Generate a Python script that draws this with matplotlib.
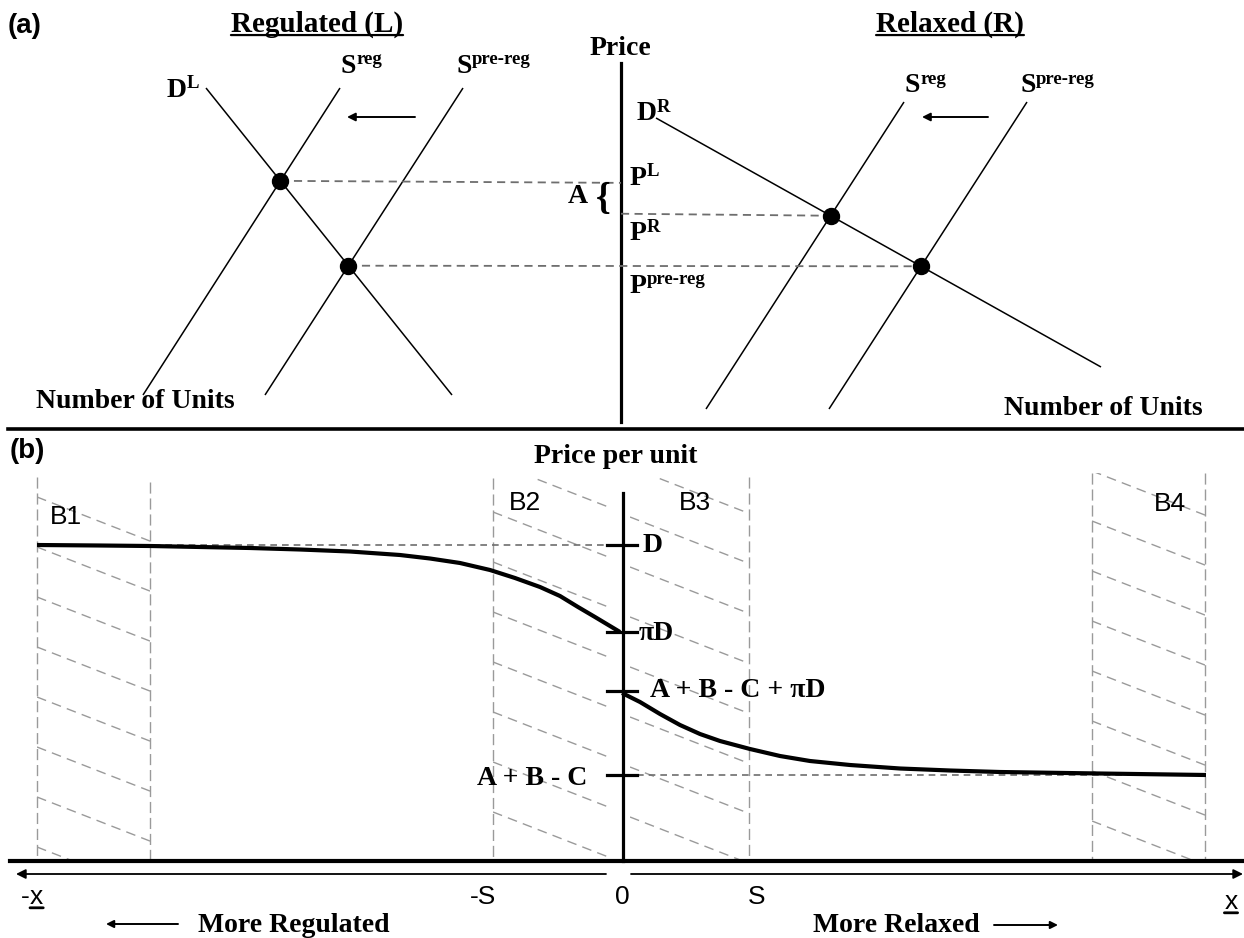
import numpy as np
import matplotlib.pyplot as plt
from matplotlib.patches import Rectangle

plt.rcParams['font.family'] = 'Liberation Serif'

# whole sheet is drawn in pixel units, y pointing down
W, H = 1244, 938

# (a) supply / demand lines as (x0, y0, x1, y1)
reg_demand = (206, 88, 452, 395)
reg_supply = (340, 88, 143, 395)
reg_supply_pre = (463, 88, 265, 395)
rel_demand = (656, 118, 1101, 367)
rel_supply = (904, 102, 706, 409)
rel_supply_pre = (1027, 102, 829, 409)

# (b) price per unit against regulation level
curve_left_x = [37, 100, 150, 200, 250, 300, 350, 400, 430, 460, 490, 515, 540, 560, 578, 595, 610, 620]
curve_left_y = [545, 545.5, 546, 547, 548, 549.5, 551.5, 555, 558.5, 563, 570, 578, 587, 596, 607, 617, 626, 632]
curve_right_x = [622, 640, 660, 680, 700, 720, 750, 780, 810, 850, 900, 950, 1000, 1100, 1206]
curve_right_y = [693, 702, 714, 725, 734, 741, 749, 756, 761, 765, 768.5, 770.5, 772, 773.5, 775]

price_levels = [545, 632, 691, 775]
price_labels = ['D', 'πD', 'A + B - C + πD', 'A + B - C']

x_ticks = [37, 483, 622, 757, 1231]
x_tick_labels = ['-x', '-S', '0', 'S', 'x']

bands = ['B1', 'B2', 'B3', 'B4']
band_x0 = [37, 493, 630, 1092]
band_x1 = [150, 612, 749, 1205]
band_top = [477, 478, 477, 473]
band_first = [497, 462, 467, 471]
band_label_xy = [(66, 517), (525, 503), (695, 503), (1170, 504)]
band_edges = [37, 150, 493, 749, 1092, 1205]
band_edge_top = [477, 482, 478, 477, 473, 473]

fig = plt.figure(figsize=(W / 100, H / 100), dpi=100)
ax = fig.add_axes([0, 0, 1, 1])
ax.set_xlim(0, W)
ax.set_ylim(H, 0)
ax.axis('off')

BOLD = dict(fontweight='bold', color='black')
GRAY = '#9a9a9a'


def seg(s):
    ax.plot([s[0], s[2]], [s[1], s[3]], color='black', lw=1.1, solid_capstyle='butt')


def cross(a, b):
    # intersection of the lines through two segments
    p = np.array(a[:2], float); r = np.array(a[2:], float) - p
    q = np.array(b[:2], float); s = np.array(b[2:], float) - q
    t = np.cross(q - p, s) / np.cross(r, s)
    return p + t * r


def sup_label(x, y, base, sup, size=20, sup_size=13.5):
    t = ax.text(x, y, base, fontsize=size, ha='left', va='baseline', **BOLD)
    ax.annotate(sup, xy=(1.0, 1.1), xycoords=t, fontsize=sup_size,
                ha='left', va='top', **BOLD)


def underline(t, frac=0.12, lw=1.6):
    ax.annotate('', xy=(1, frac), xycoords=t, xytext=(0, frac), textcoords=t,
                arrowprops=dict(arrowstyle='-', lw=lw, color='black',
                                shrinkA=0, shrinkB=0))


def arrow(x0, y0, x1, y1, lw=1.4, ms=12):
    ax.annotate('', xy=(x1, y1), xytext=(x0, y0),
                arrowprops=dict(arrowstyle='-|>', lw=lw, color='black',
                                mutation_scale=ms, shrinkA=0, shrinkB=0))


# ---------------- panel (a) ----------------
ax.text(8, 26, '(a)', fontsize=20, family='Liberation Sans', va='center', **BOLD)
t = ax.text(317, 32, 'Regulated (L)', fontsize=21, ha='center', va='baseline', **BOLD)
underline(t)
t = ax.text(950, 32, 'Relaxed (R)', fontsize=21, ha='center', va='baseline', **BOLD)
underline(t)
ax.text(620, 55, 'Price', fontsize=20, ha='center', va='baseline', **BOLD)
ax.plot([621, 621], [63, 422], color='black', lw=2.3)

for s in [reg_demand, reg_supply, reg_supply_pre, rel_demand, rel_supply, rel_supply_pre]:
    seg(s)

pL = cross(reg_demand, reg_supply)
pPre_L = cross(reg_demand, reg_supply_pre)
pR = cross(rel_demand, rel_supply)
pPre_R = cross(rel_demand, rel_supply_pre)

dash_a = dict(color='#6e6e6e', lw=1.3, dashes=(4.5, 3))
ax.plot([pL[0], 621], [pL[1], pL[1] + 2], **dash_a)
ax.plot([621, pR[0]], [pR[1] - 2, pR[1]], **dash_a)
ax.plot([pPre_L[0], pPre_R[0]], [pPre_L[1], pPre_R[1]], **dash_a)

for p in [pL, pPre_L, pR, pPre_R]:
    ax.plot(p[0], p[1], 'o', color='black', ms=11.5, zorder=5)

arrow(415, 117, 347, 117)
arrow(988, 117, 922, 117)

sup_label(167, 97, 'D', 'L')
sup_label(341, 73, 'S', 'reg')
sup_label(456, 73, 'S', 'pre-reg')
sup_label(637, 120, 'D', 'R')
sup_label(905, 92, 'S', 'reg')
sup_label(1020, 92, 'S', 'pre-reg')
sup_label(630, 185, 'P', 'L')
sup_label(630, 240, 'P', 'R')
sup_label(630, 293, 'P', 'pre-reg')

ax.text(568, 203, 'A', fontsize=20, ha='left', va='baseline', **BOLD)
ax.text(603, 199, '{', fontsize=27, ha='center', va='center', **BOLD)

ax.text(36, 408, 'Number of Units', fontsize=20, ha='left', va='baseline', **BOLD)
ax.text(1004, 415, 'Number of Units', fontsize=20, ha='left', va='baseline', **BOLD)

ax.plot([8, W], [429, 429], color='black', lw=2.6)

# ---------------- panel (b) ----------------
ax.text(10, 451, '(b)', fontsize=20, family='Liberation Sans', va='center', **BOLD)
ax.text(616, 463, 'Price per unit', fontsize=20, ha='center', va='baseline', **BOLD)

base_y = 861
slope = 0.39
for name, x0, x1, top, first, (lx, ly) in zip(bands, band_x0, band_x1, band_top,
                                              band_first, band_label_xy):
    clip = Rectangle((x0, top), x1 - x0, base_y - top, transform=ax.transData)
    y = first
    while y < base_y:
        ln, = ax.plot([x0, x1], [y, y + slope * (x1 - x0)], color=GRAY, lw=1.0,
                      dashes=(7, 4.5))
        ln.set_clip_path(clip)
        y += 50
    ax.text(lx, ly, name, fontsize=19, family='Liberation Sans', ha='center',
            va='center', color='black')

for xe, top in zip(band_edges, band_edge_top):
    ax.plot([xe, xe], [top, base_y], color=GRAY, lw=1.0, dashes=(8, 3.5))

# reference levels
dash_b = dict(color='#6e6e6e', lw=1.2, dashes=(4, 3))
ax.plot([curve_left_x[0], 607], [price_levels[0]] * 2, **dash_b)
ax.plot([637, curve_right_x[-1]], [price_levels[3]] * 2, **dash_b)

ax.plot(curve_left_x, curve_left_y, color='black', lw=3.0, solid_capstyle='butt')
ax.plot(curve_right_x, curve_right_y, color='black', lw=3.0, solid_capstyle='butt')

ax.plot([623, 623], [493, base_y], color='black', lw=2.3)
ax.plot([10, W], [base_y, base_y], color='black', lw=3.0)

for yv in price_levels:
    ax.plot([607, 637], [yv, yv], color='black', lw=2.3)
ax.text(643, 552, price_labels[0], fontsize=20, ha='left', va='baseline', **BOLD)
ax.text(639, 640, price_labels[1], fontsize=20, ha='left', va='baseline', **BOLD)
ax.text(650, 697, price_labels[2], fontsize=20, ha='left', va='baseline', **BOLD)
ax.text(587, 785, price_labels[3], fontsize=20, ha='right', va='baseline', **BOLD)

# regulation axis
arrow(606, 874, 16, 874, lw=1.3, ms=14)
arrow(631, 874, 1243, 874, lw=1.3, ms=14)
sans = dict(fontsize=19, family='Liberation Sans', color='black', va='baseline')
for xv, lab in zip(x_ticks, x_tick_labels):
    if lab == '-x':
        ax.text(xv - 7, 904, '-', ha='right', **sans)
        t = ax.text(xv - 7, 904, 'x', ha='left', **sans)
        underline(t, frac=0.05, lw=2.0)
    elif lab == 'x':
        t = ax.text(xv, 909, 'x', ha='center', **sans)
        underline(t, frac=0.05, lw=2.0)
    else:
        ax.text(xv, 904, lab, ha='center', **sans)

ax.text(198, 932, 'More Regulated', fontsize=20, ha='left', va='baseline', **BOLD)
arrow(178, 924, 106, 924, lw=1.4, ms=11)
ax.text(813, 932, 'More Relaxed', fontsize=20, ha='left', va='baseline', **BOLD)
arrow(994, 925, 1058, 925, lw=1.4, ms=11)

fig.savefig('out.png', dpi=100)
